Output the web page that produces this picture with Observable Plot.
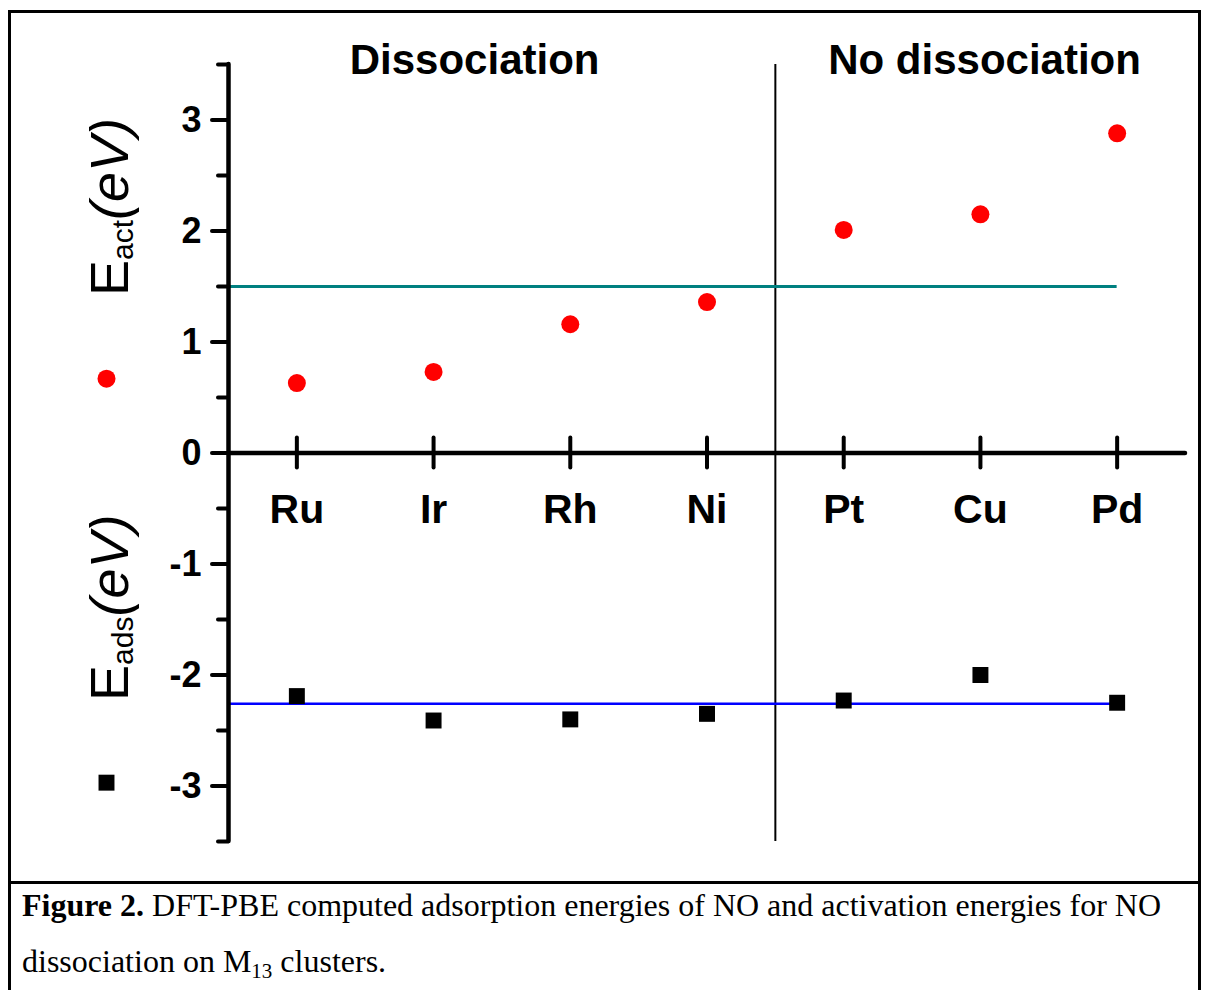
<!DOCTYPE html>
<html><head><meta charset="utf-8">
<script src="https://cdn.jsdelivr.net/npm/d3@7"></script>
<script src="https://cdn.jsdelivr.net/npm/@observablehq/plot@0.6"></script>
<style>
body{margin:0;background:#fff;}
#wrap{position:relative;width:1207px;height:990px;overflow:hidden;}
#frame{position:absolute;left:8px;top:10px;width:1193px;height:1000px;border-left:3px solid #000;border-top:3px solid #000;border-right:3px solid #000;box-sizing:border-box;}
#sep{position:absolute;left:8px;top:881px;width:1193px;height:3px;background:#000;}
#chart{position:absolute;left:0;top:0;}
#caption{position:absolute;left:22px;top:877px;font-family:"Liberation Serif","Times New Roman",serif;font-size:32px;line-height:56px;color:#000;white-space:nowrap;}
#caption sub{font-size:21px;vertical-align:-6px;line-height:0;}
</style></head>
<body>
<div id="wrap">
  <div id="frame"></div>
  <div id="chart"></div>
  <div id="sep"></div>
  <div id="caption"><b>Figure 2.</b> DFT-PBE computed adsorption energies of NO and activation energies for NO<br>dissociation on M<sub>13</sub> clusters.</div>
</div>
<script>
// ---- data ----
const metals = ["Ru", "Ir", "Rh", "Ni", "Pt", "Cu", "Pd"];
const eAct = [0.63, 0.73, 1.16, 1.36, 2.01, 2.15, 2.88];
const eAds = [-2.19, -2.41, -2.40, -2.35, -2.23, -2.00, -2.25];
const eActThreshold = [1.5];
const eAdsReference = [-2.26];
const boundary = [4.5];
const yMajorTicks = [-3, -2, -1, 0, 1, 2, 3];
const yMinorTicks = [-3.5, -2.5, -1.5, -0.5, 0.5, 1.5, 2.5, 3.5];
const regions = [{label: "Dissociation", x: 2.3}, {label: "No dissociation", x: 6.03}];
const legendAct = [0.67];
const legendAds = [-2.97];
const xDomain = [0.5, 7.5];
const yDomain = [-3.5, 3.5];

const table = metals.map((m, i) => ({metal: m, idx: i + 1, eAct: eAct[i], eAds: eAds[i]}));
const xTicks = table.map(d => d.idx);
const lastX = table[table.length - 1].idx;

const sans = "Liberation Sans, Arial, sans-serif";

const plot = Plot.plot({
  width: 1207,
  height: 883,
  marginLeft: 228,
  marginRight: 22,
  marginTop: 64,
  marginBottom: 42,
  style: {fontFamily: sans, background: "transparent", overflow: "visible", color: "#000"},
  x: {domain: xDomain, axis: null},
  y: {domain: yDomain, axis: null},
  marks: [
    Plot.ruleX(boundary, {y1: yDomain[0], y2: yDomain[1], stroke: "#000", strokeWidth: 2}),
    Plot.ruleY(eActThreshold, {x1: xDomain[0], x2: lastX, stroke: "#008080", strokeWidth: 3}),
    Plot.ruleY(eAdsReference, {x1: xDomain[0], x2: lastX, stroke: "#0000ff", strokeWidth: 2.5}),
    // axes
    Plot.ruleX([xDomain[0]], {y1: yDomain[0], y2: yDomain[1], stroke: "#000", strokeWidth: 4.5, strokeLinecap: "round"}),
    Plot.ruleY([0], {x1: xDomain[0], x2: xDomain[1], stroke: "#000", strokeWidth: 4.5, strokeLinecap: "round"}),
    Plot.ruleY(yMajorTicks, {x1: xDomain[0], x2: xDomain[0], insetLeft: -16, stroke: "#000", strokeWidth: 4, strokeLinecap: "round"}),
    Plot.ruleY(yMinorTicks, {x1: xDomain[0], x2: xDomain[0], insetLeft: -10, stroke: "#000", strokeWidth: 4, strokeLinecap: "round"}),
    Plot.ruleX(xTicks, {y1: 0, y2: 0, insetTop: -15, insetBottom: -15, stroke: "#000", strokeWidth: 4, strokeLinecap: "round"}),
    Plot.text(yMajorTicks, {x: xDomain[0], y: d => d, text: d => String(d), textAnchor: "end", dx: -27, fontSize: 36, fontWeight: "bold", fill: "#000"}),
    Plot.text(table, {x: "idx", y: 0, text: "metal", dy: 57, fontSize: 41, fontWeight: "bold", fill: "#000"}),
    Plot.text(regions, {x: "x", frameAnchor: "top", dy: -20, text: "label", fontSize: 42, fontWeight: "bold", fill: "#000", letterSpacing: "1.8px"}),
    // data
    Plot.dot(table, {x: "idx", y: "eAct", r: 9, fill: "#ff0000", stroke: "none"}),
    Plot.dot(table, {x: "idx", y: "eAds", symbol: "square", r: 9, fill: "#000", stroke: "none"}),
    // legend symbols beside the axis titles
    Plot.dot(legendAct, {y: d => d, frameAnchor: "left", dx: -122, r: 9, fill: "#ff0000", stroke: "none"}),
    Plot.dot(legendAds, {y: d => d, frameAnchor: "left", dx: -122, symbol: "square", r: 9, fill: "#000", stroke: "none"})
  ]
});

document.getElementById("chart").appendChild(plot);

// rotated axis titles with subscripts
const svg = d3.select(plot);
function title(sub, startY) {
  const t = svg.append("text")
    .attr("transform", `translate(128,${startY}) rotate(-90)`)
    .attr("text-anchor", "start")
    .attr("font-family", sans)
    .attr("font-size", 54)
    .attr("fill", "#000");
  t.append("tspan").text("E");
  t.append("tspan").attr("font-size", 30).attr("dy", 5).text(sub);
  t.append("tspan").attr("dy", -5).attr("font-style", "italic").text("(eV)");
}
title("act", 296);
title("ads", 701);
</script>
</body></html>
